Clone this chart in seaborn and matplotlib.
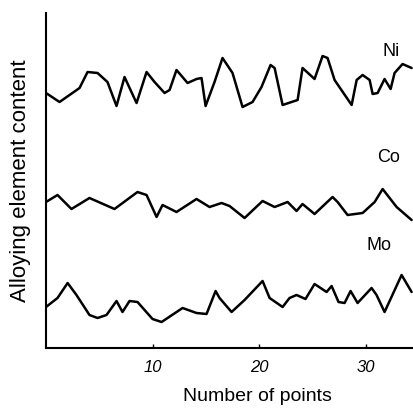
import matplotlib
matplotlib.use("Agg")
import matplotlib.pyplot as plt
import pandas as pd
import seaborn as sns

# --- data (x = point number, y = content, arbitrary units) ---
ni_x = [0, 1.27, 3.15, 3.90, 4.84, 5.77, 6.62, 7.37, 8.50, 9.44, 10.19, 11.13, 11.60,
        12.25, 13.29, 14.13, 14.60, 14.98, 15.82, 16.57, 17.51, 18.45, 19.39, 20.23,
        21.08, 21.46, 22.21, 23.05, 23.62, 24.08, 25.21, 25.96, 26.43, 27.09, 28.69,
        29.16, 29.72, 30.38, 30.66, 31.13, 31.78, 32.35, 32.72, 33.47, 34.32]
ni_y = [25.5, 24.6, 26.0, 27.6, 27.5, 26.6, 24.2, 27.1, 24.5, 27.6, 26.6, 25.5, 25.8,
        27.8, 26.5, 26.9, 27.0, 24.2, 26.6, 29.0, 27.5, 24.1, 24.6, 26.1, 28.3, 28.0,
        24.3, 24.6, 24.8, 28.0, 26.9, 29.2, 29.0, 26.8, 24.3, 26.8, 27.3, 26.8, 25.4,
        25.5, 26.9, 25.9, 27.5, 28.4, 28.0]

co_x = [0, 1.08, 2.39, 4.08, 6.43, 8.59, 9.44, 10.38, 10.94, 12.25, 14.13, 15.35, 16.48,
        17.23, 18.64, 20.33, 21.46, 22.68, 23.52, 24.08, 25.21, 26.90, 27.37, 28.31,
        29.72, 30.85, 31.60, 32.91, 34.32]
co_y = [14.6, 15.3, 13.9, 15.0, 13.9, 15.6, 15.3, 13.1, 14.3, 13.6, 14.9, 14.1, 14.5,
        14.2, 13.0, 14.7, 14.1, 14.6, 13.7, 14.4, 13.4, 15.1, 14.6, 13.3, 13.5, 14.6,
        15.9, 14.1, 12.8]

mo_x = [0, 1.08, 2.03, 2.86, 4.08, 4.84, 5.68, 6.62, 7.18, 7.84, 8.59, 10.0, 10.85,
        12.82, 14.13, 15.07, 15.92, 16.29, 17.42, 18.64, 20.33, 20.99, 22.21, 22.86,
        23.52, 24.36, 25.21, 26.34, 26.81, 27.46, 28.03, 28.59, 29.25, 30.56, 31.03,
        31.78, 33.38, 34.32]
mo_y = [4.1, 5.0, 6.5, 5.3, 3.3, 3.0, 3.3, 4.7, 3.6, 4.7, 4.6, 2.9, 2.6, 4.0, 3.5, 3.4,
        5.7, 5.0, 3.6, 4.8, 6.7, 5.0, 4.1, 5.0, 5.3, 4.9, 6.4, 5.6, 6.2, 4.6, 4.5, 5.7,
        4.5, 6.0, 5.3, 3.6, 7.3, 5.6]

elements = ["Ni", "Co", "Mo"]
label_x = [32.4, 32.2, 31.3]
label_y = [29.7, 19.1, 10.2]
x_ticks = [10, 20, 30]

df = pd.concat([
    pd.DataFrame({"element": "Ni", "point": ni_x, "content": ni_y}),
    pd.DataFrame({"element": "Co", "point": co_x, "content": co_y}),
    pd.DataFrame({"element": "Mo", "point": mo_x, "content": mo_y}),
])

# --- plot ---
sns.set_style("ticks")
plt.rcParams["font.family"] = ["Liberation Sans", "DejaVu Sans"]
plt.rcParams["text.color"] = "black"
plt.rcParams["axes.labelcolor"] = "black"
plt.rcParams["xtick.color"] = "black"
plt.rcParams["xtick.labelcolor"] = "black"

fig = plt.figure(figsize=(4.13, 4.09), dpi=100)
ax = fig.add_axes([46 / 413, 61 / 409, 367 / 413, 335 / 409])

sns.lineplot(data=df, x="point", y="content", hue="element", units="element",
             estimator=None, sort=False, palette=["black"] * 3, linewidth=1.8,
             legend=False, ax=ax)
for line in ax.lines:
    line.set_solid_joinstyle("round")
    line.set_solid_capstyle("round")

for name, lx, ly in zip(elements, label_x, label_y):
    ax.text(lx, ly, name, fontsize=13, ha="center", va="center", color="black")

ax.set_xlim(0, 34.45)
ax.set_ylim(0, 33.5)
ax.set_xticks(x_ticks)
ax.set_xticklabels([str(t) for t in x_ticks], fontsize=12, style="italic")
ax.set_yticks([])
ax.tick_params(axis="x", direction="in", length=3, width=1, pad=9)

ax.set_xlabel("Number of points", fontsize=14)
ax.xaxis.set_label_coords(0.576, -0.118)
ax.set_ylabel("Alloying element content", fontsize=16)
ax.yaxis.set_label_coords(-0.04, 0.5)

sns.despine(ax=ax)
for side in ["left", "bottom"]:
    ax.spines[side].set_linewidth(1.5)
    ax.spines[side].set_color("black")

fig.savefig("out.png", dpi=100)
